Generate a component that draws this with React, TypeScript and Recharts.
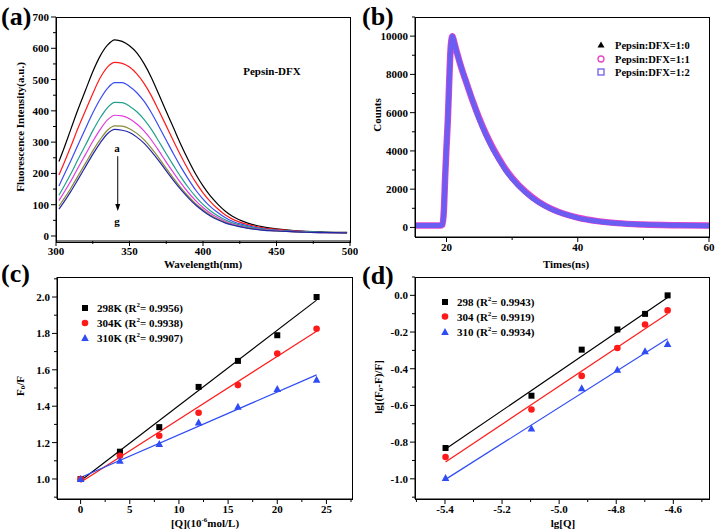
import {
  ComposedChart,
  LineChart,
  Line,
  Scatter,
  XAxis,
  YAxis,
  ReferenceLine,
  ReferenceDot,
} from 'recharts'

const SERIF = '"Liberation Serif", "Times New Roman", serif'

// (a) fluorescence spectra, curves a..g
const wavelengths = [302, 305, 310, 315, 320, 325, 330, 335, 340, 345, 350, 355, 360, 365, 370, 375, 380, 385, 390, 395, 400, 405, 410, 415, 420, 430, 440, 450, 460, 470, 480, 490, 498]
const curveA = [238, 275, 340, 405, 465, 525, 575, 610, 627, 622, 608, 585, 550, 505, 452, 398, 345, 292, 243, 198, 160, 128, 102, 80, 63, 42, 30, 23, 18, 15, 13, 12, 12]
const curveB = [195, 228, 285, 345, 400, 455, 505, 540, 555, 552, 540, 518, 487, 447, 400, 352, 303, 256, 212, 172, 138, 110, 87, 68, 54, 37, 27, 21, 17, 14, 12, 11, 11]
const curveC = [160, 190, 240, 292, 343, 393, 437, 472, 490, 490, 478, 458, 430, 393, 350, 306, 262, 220, 182, 147, 118, 94, 75, 59, 47, 33, 24, 19, 16, 14, 12, 11, 11]
const curveD = [130, 155, 198, 245, 290, 336, 377, 410, 427, 426, 415, 397, 372, 340, 302, 263, 225, 188, 155, 126, 101, 81, 65, 52, 42, 30, 22, 18, 15, 13, 12, 11, 11]
const curveE = [113, 136, 175, 218, 260, 302, 340, 371, 386, 384, 375, 358, 335, 306, 272, 236, 202, 169, 139, 113, 91, 73, 59, 47, 38, 27, 20, 17, 14, 12, 11, 11, 10]
const curveF = [95, 116, 152, 192, 232, 272, 308, 338, 352, 351, 343, 328, 307, 280, 249, 216, 184, 154, 127, 103, 84, 67, 54, 44, 36, 26, 20, 16, 14, 12, 11, 11, 10]
const curveG = [86, 106, 142, 181, 221, 261, 297, 327, 341, 338, 331, 316, 296, 270, 240, 208, 177, 148, 122, 99, 80, 64, 52, 42, 35, 25, 19, 16, 14, 12, 11, 11, 10]
const curveKeys = ['a', 'b', 'c', 'd', 'e', 'f', 'g']
const curveColors = ['#000000', '#ff1a1a', '#3b4cf0', '#22a08c', '#e03ce0', '#8a8a3a', '#2326a8']

// (b) time-resolved decay
const times = [15, 16, 17, 18, 19, 19.4, 19.6, 19.8, 20.0, 20.2, 20.4, 20.6, 20.8, 20.9, 21.0, 21.5, 22, 22.5, 23, 24, 25, 26, 27, 28, 29, 30, 32, 34, 36, 38, 40, 43, 46, 50, 55, 60]
const counts10 = [100, 100, 100, 100, 100, 150, 900, 2700, 4200, 5600, 7500, 9200, 9900, 10000, 9900, 9250, 8650, 8100, 7600, 6600, 5650, 4850, 4150, 3550, 3000, 2550, 1850, 1320, 950, 690, 500, 320, 220, 150, 110, 90]
const counts11 = [100, 100, 100, 100, 100, 150, 900, 2700, 4200, 5600, 7500, 9200, 9900, 10000, 9900, 9250, 8650, 8100, 7600, 6600, 5700, 4900, 4200, 3600, 3050, 2600, 1880, 1350, 970, 700, 510, 330, 225, 155, 115, 95]
const counts12 = [100, 100, 100, 100, 100, 150, 900, 2700, 4200, 5600, 7500, 9200, 9900, 10000, 9900, 9250, 8650, 8100, 7600, 6600, 5650, 4850, 4150, 3550, 3000, 2550, 1850, 1320, 950, 690, 500, 320, 220, 150, 110, 90]

// (c) Stern-Volmer
const conc = [0, 4, 8, 12, 16, 20, 24]
const sv298 = [1.0, 1.15, 1.285, 1.506, 1.649, 1.79, 2.0]
const sv304 = [1.0, 1.128, 1.238, 1.364, 1.516, 1.689, 1.826]
const sv310 = [1.0, 1.1, 1.192, 1.311, 1.397, 1.494, 1.545]
const svFitX = [0, 24]
const svFit298 = [0.99, 1.983]
const svFit304 = [0.982, 1.812]
const svFit310 = [1.008, 1.572]

// (d) double log
const lgQ = [-5.398, -5.097, -4.921, -4.796, -4.699, -4.62]
const dl298 = [-0.832, -0.547, -0.296, -0.186, -0.101, 0.0]
const dl304 = [-0.881, -0.622, -0.439, -0.287, -0.159, -0.082]
const dl310 = [-0.996, -0.726, -0.506, -0.406, -0.305, -0.265]
const dlFitX = [-5.398, -4.62]
const dlFit298 = [-0.838, -0.012]
const dlFit304 = [-0.908, -0.1]
const dlFit310 = [-1.003, -0.237]

// axis ticks
const aXMajor = [300, 350, 400, 450, 500]
const aXMinor = [325, 375, 425, 475]
const aYMajor = [0, 100, 200, 300, 400, 500, 600, 700]
const aYMinor = [50, 150, 250, 350, 450, 550, 650]
const bXMajor = [20, 40, 60]
const bXMinor = [30, 50]
const bYMajor = [0, 2000, 4000, 6000, 8000, 10000]
const bYMinor = [1000, 3000, 5000, 7000, 9000, 11000]
const cXMajor = [0, 5, 10, 15, 20, 25]
const cXMinor = [2.5, 7.5, 12.5, 17.5, 22.5, 27.5]
const cYMajor = [1.0, 1.2, 1.4, 1.6, 1.8, 2.0]
const cYMinor = [0.9, 1.1, 1.3, 1.5, 1.7, 1.9, 2.1]
const dXMajor = [-5.4, -5.2, -5.0, -4.8, -4.6]
const dXMinor = [-5.5, -5.3, -5.1, -4.9, -4.7, -4.5]
const dYMajor = [-1.0, -0.8, -0.6, -0.4, -0.2, 0.0]
const dYMinor = [-1.1, -0.9, -0.7, -0.5, -0.3, -0.1, 0.1]

const aXDomain = [300, 500]
const aYDomain = [-16, 700]
const bXDomain = [15.2, 60]
const bYDomain = [-500, 11000]
const cXDomain = [-2.4, 27.6]
const cYDomain = [0.89, 2.11]
const dXDomain = [-5.505, -4.475]
const dYDomain = [-1.11, 0.1]

const isMajor = (majors: number[], v: number) => majors.some((m) => Math.abs(m - v) < 1e-6)

function xTick(majors: number[], fmt: (v: number) => string) {
  return (p: any) => {
    const big = isMajor(majors, p.payload.value)
    return (
      <g>
        <line x1={p.x} x2={p.x} y1={p.y} y2={p.y + (big ? 5 : 3)} stroke="#000" />
        {big && (
          <text x={p.x} y={p.y + 14} textAnchor="middle" fontFamily={SERIF} fontWeight="bold" fontSize={11} fill="#000">
            {fmt(p.payload.value)}
          </text>
        )}
      </g>
    )
  }
}

function yTick(majors: number[], fmt: (v: number) => string) {
  return (p: any) => {
    const big = isMajor(majors, p.payload.value)
    return (
      <g>
        <line x1={p.x} x2={p.x - (big ? 5 : 3)} y1={p.y} y2={p.y} stroke="#000" />
        {big && (
          <text x={p.x - 7} y={p.y + 4} textAnchor="end" fontFamily={SERIF} fontWeight="bold" fontSize={11} fill="#000">
            {fmt(p.payload.value)}
          </text>
        )}
      </g>
    )
  }
}

const int = (v: number) => String(Math.round(v))
const one = (v: number) => v.toFixed(1)

function Square({ cx, cy, color }: any) {
  return <rect x={cx - 3} y={cy - 3} width={6} height={6} fill={color} />
}
function Dot({ cx, cy, color }: any) {
  return <circle cx={cx} cy={cy} r={3.3} fill={color} />
}
function Tri({ cx, cy, color }: any) {
  return <path d={`M${cx},${cy - 4}L${cx + 3.8},${cy + 3}L${cx - 3.8},${cy + 3}Z`} fill={color} />
}

// axes get 1px of size, otherwise recharts skips drawing them
function axes(xd: number[], yd: number[], xMaj: number[], xMin: number[], yMaj: number[], yMin: number[], xf: (v: number) => string, yf: (v: number) => string) {
  return [
    <XAxis key="x" type="number" dataKey="x" domain={xd} ticks={[...xMaj, ...xMin]} allowDataOverflow interval={0} height={1} tickSize={0} tickMargin={0} tickLine={false} axisLine={{ stroke: '#000' }} tick={xTick(xMaj, xf)} />,
    <YAxis key="y" type="number" domain={yd} ticks={[...yMaj, ...yMin]} allowDataOverflow interval={0} width={1} tickSize={0} tickMargin={0} tickLine={false} axisLine={{ stroke: '#000' }} tick={yTick(yMaj, yf)} />,
  ]
}

const spectra = wavelengths.map((w, i) => ({
  x: w,
  a: curveA[i],
  b: curveB[i],
  c: curveC[i],
  d: curveD[i],
  e: curveE[i],
  f: curveF[i],
  g: curveG[i],
}))
const decay = times.map((t, i) => ({ x: t, p10: counts10[i], p11: counts11[i], p12: counts12[i] }))
const pts = (xs: number[], ys: number[]) => xs.map((x, i) => ({ x, y: ys[i] }))

function PanelA() {
  return (
    <LineChart width={358} height={270} data={spectra} margin={{ top: 17, right: 8, bottom: 28, left: 55 }}>
      {axes(aXDomain, aYDomain, aXMajor, aXMinor, aYMajor, aYMinor, int, int)}
      {curveKeys.map((k, i) => (
        <Line key={k} dataKey={k} type="monotone" stroke={curveColors[i]} strokeWidth={1.2} dot={false} isAnimationActive={false} />
      ))}
      <ReferenceLine segment={[{ x: 342, y: 255 }, { x: 342, y: 86 }]} stroke="#000" strokeWidth={1} />
      <ReferenceDot
        x={342}
        y={80}
        r={0}
        shape={(p: any) => <path d={`M${p.cx - 2.5},${p.cy - 7}L${p.cx + 2.5},${p.cy - 7}L${p.cx},${p.cy}Z`} fill="#000" />}
      />
    </LineChart>
  )
}

function PanelB() {
  return (
    <LineChart width={358} height={270} data={decay} margin={{ top: 17, right: 7, bottom: 32, left: 56 }}>
      {axes(bXDomain, bYDomain, bXMajor, bXMinor, bYMajor, bYMinor, int, int)}
      <Line dataKey="p10" type="monotone" stroke="#000000" strokeWidth={4.5} dot={false} isAnimationActive={false} />
      <Line dataKey="p11" type="monotone" stroke="#e845c8" strokeWidth={6.5} dot={false} isAnimationActive={false} />
      <Line dataKey="p12" type="monotone" stroke="#6b5cf2" strokeWidth={5} dot={false} isAnimationActive={false} />
    </LineChart>
  )
}

function PanelC() {
  return (
    <ComposedChart width={358} height={266} margin={{ top: 11, right: 6, bottom: 32, left: 56 }}>
      {axes(cXDomain, cYDomain, cXMajor, cXMinor, cYMajor, cYMinor, int, one)}
      <Line data={pts(svFitX, svFit298)} dataKey="y" stroke="#000" strokeWidth={1.2} dot={false} isAnimationActive={false} />
      <Line data={pts(svFitX, svFit304)} dataKey="y" stroke="#ff1a1a" strokeWidth={1.2} dot={false} isAnimationActive={false} />
      <Line data={pts(svFitX, svFit310)} dataKey="y" stroke="#2f4cf5" strokeWidth={1.2} dot={false} isAnimationActive={false} />
      <Scatter data={pts(conc, sv298)} dataKey="y" shape={(p: any) => <Square {...p} color="#000" />} isAnimationActive={false} />
      <Scatter data={pts(conc, sv304)} dataKey="y" shape={(p: any) => <Dot {...p} color="#ff1a1a" />} isAnimationActive={false} />
      <Scatter data={pts(conc, sv310)} dataKey="y" shape={(p: any) => <Tri {...p} color="#2f4cf5" />} isAnimationActive={false} />
    </ComposedChart>
  )
}

function PanelD() {
  return (
    <ComposedChart width={358} height={266} margin={{ top: 11, right: 7, bottom: 32, left: 56 }}>
      {axes(dXDomain, dYDomain, dXMajor, dXMinor, dYMajor, dYMinor, one, one)}
      <Line data={pts(dlFitX, dlFit298)} dataKey="y" stroke="#000" strokeWidth={1.2} dot={false} isAnimationActive={false} />
      <Line data={pts(dlFitX, dlFit304)} dataKey="y" stroke="#ff1a1a" strokeWidth={1.2} dot={false} isAnimationActive={false} />
      <Line data={pts(dlFitX, dlFit310)} dataKey="y" stroke="#2f4cf5" strokeWidth={1.2} dot={false} isAnimationActive={false} />
      <Scatter data={pts(lgQ, dl298)} dataKey="y" shape={(p: any) => <Square {...p} color="#000" />} isAnimationActive={false} />
      <Scatter data={pts(lgQ, dl304)} dataKey="y" shape={(p: any) => <Dot {...p} color="#ff1a1a" />} isAnimationActive={false} />
      <Scatter data={pts(lgQ, dl310)} dataKey="y" shape={(p: any) => <Tri {...p} color="#2f4cf5" />} isAnimationActive={false} />
    </ComposedChart>
  )
}

const txt = { fontFamily: SERIF, fontWeight: 'bold' as const, fill: '#000' }

function VTitle({ x, y, children }: any) {
  return (
    <text x={x} y={y} transform={`rotate(-90 ${x} ${y})`} textAnchor="middle" dominantBaseline="central" fontSize={11} {...txt}>
      {children}
    </text>
  )
}

function R2Legend({ x, y, labels }: { x: number; y: number[]; labels: string[][] }) {
  const colors = ['#000', '#ff1a1a', '#2f4cf5']
  return (
    <g>
      {labels.map((l, i) => (
        <g key={i}>
          {i === 0 && <Square cx={x} cy={y[i]} color={colors[i]} />}
          {i === 1 && <Dot cx={x} cy={y[i]} color={colors[i]} />}
          {i === 2 && <Tri cx={x} cy={y[i]} color={colors[i]} />}
          <text x={x + 12} y={y[i] + 4} fontSize={11} {...txt}>
            {l[0]} (R<tspan dy={-5} fontSize={7}>2</tspan>
            <tspan dy={5}>= {l[1]})</tspan>
          </text>
        </g>
      ))}
    </g>
  )
}

// plot frames (top and right edges of each box)
const frames = [
  [56, 17, 294, 225],
  [415, 17, 294, 220],
  [57, 277, 295, 222],
  [415, 277, 294, 222],
]

function Overlay() {
  return (
    <svg width={716} height={532} style={{ position: 'absolute', left: 0, top: 0, pointerEvents: 'none' }}>
      {frames.map((f, i) => (
        <rect key={i} x={f[0] + 0.5} y={f[1] + 0.5} width={f[2]} height={f[3]} fill="none" stroke="#000" />
      ))}
      <text x={1} y={25} fontSize={26} {...txt}>(a)</text>
      <text x={362} y={25} fontSize={26} {...txt}>(b)</text>
      <text x={1} y={282} fontSize={26} {...txt}>(c)</text>
      <text x={362} y={284} fontSize={26} {...txt}>(d)</text>

      <text x={203} y={268} textAnchor="middle" fontSize={11} {...txt}>Wavelength(nm)</text>
      <text x={566} y={268} textAnchor="middle" fontSize={11} {...txt}>Times(ns)</text>
      <text x={205} y={527} textAnchor="middle" fontSize={11} {...txt}>
        [Q](10<tspan dy={-5} fontSize={7}>-6</tspan>
        <tspan dy={5}>mol/L)</tspan>
      </text>
      <text x={563} y={527} textAnchor="middle" fontSize={11} {...txt}>lg[Q]</text>

      <VTitle x={20} y={127}>Fluorescence Intensity(a.u.)</VTitle>
      <VTitle x={377} y={115}>Counts</VTitle>
      <VTitle x={20} y={386}>
        F<tspan dy={3} fontSize={7}>0</tspan>
        <tspan dy={-3}>/F</tspan>
      </VTitle>
      <VTitle x={378} y={387}>
        lg[(F<tspan dy={3} fontSize={7}>0</tspan>
        <tspan dy={-3}>-F)/F]</tspan>
      </VTitle>

      <text x={272} y={75} textAnchor="middle" fontSize={11} {...txt}>Pepsin-DFX</text>
      <text x={117} y={152} textAnchor="middle" fontSize={11} {...txt}>a</text>
      <text x={117} y={225} textAnchor="middle" fontSize={11} {...txt}>g</text>

      <path d="M601,41.5L604.5,47.5L597.5,47.5Z" fill="#000" />
      <circle cx={601} cy={59} r={3} fill="none" stroke="#e845c8" strokeWidth={1.3} />
      <rect x={598} y={69} width={6} height={6} fill="none" stroke="#6b5cf2" strokeWidth={1.3} />
      <text x={615} y={49} fontSize={10.5} {...txt}>Pepsin:DFX=1:0</text>
      <text x={615} y={63} fontSize={10.5} {...txt}>Pepsin:DFX=1:1</text>
      <text x={615} y={76} fontSize={10.5} {...txt}>Pepsin:DFX=1:2</text>

      <R2Legend x={85} y={[308, 323, 338]} labels={[['298K', '0.9956'], ['304K', '0.9938'], ['310K', '0.9907']]} />
      <R2Legend x={445} y={[302, 316.5, 332]} labels={[['298', '0.9943'], ['304', '0.9919'], ['310', '0.9934']]} />
    </svg>
  )
}

export default function App() {
  return (
    <div style={{ position: 'absolute', left: 0, top: 0, width: 716, height: 532, background: '#fff' }}>
      <div style={{ position: 'absolute', left: 0, top: 0 }}>
        <PanelA />
      </div>
      <div style={{ position: 'absolute', left: 358, top: 0 }}>
        <PanelB />
      </div>
      <div style={{ position: 'absolute', left: 0, top: 266 }}>
        <PanelC />
      </div>
      <div style={{ position: 'absolute', left: 358, top: 266 }}>
        <PanelD />
      </div>
      <Overlay />
    </div>
  )
}
